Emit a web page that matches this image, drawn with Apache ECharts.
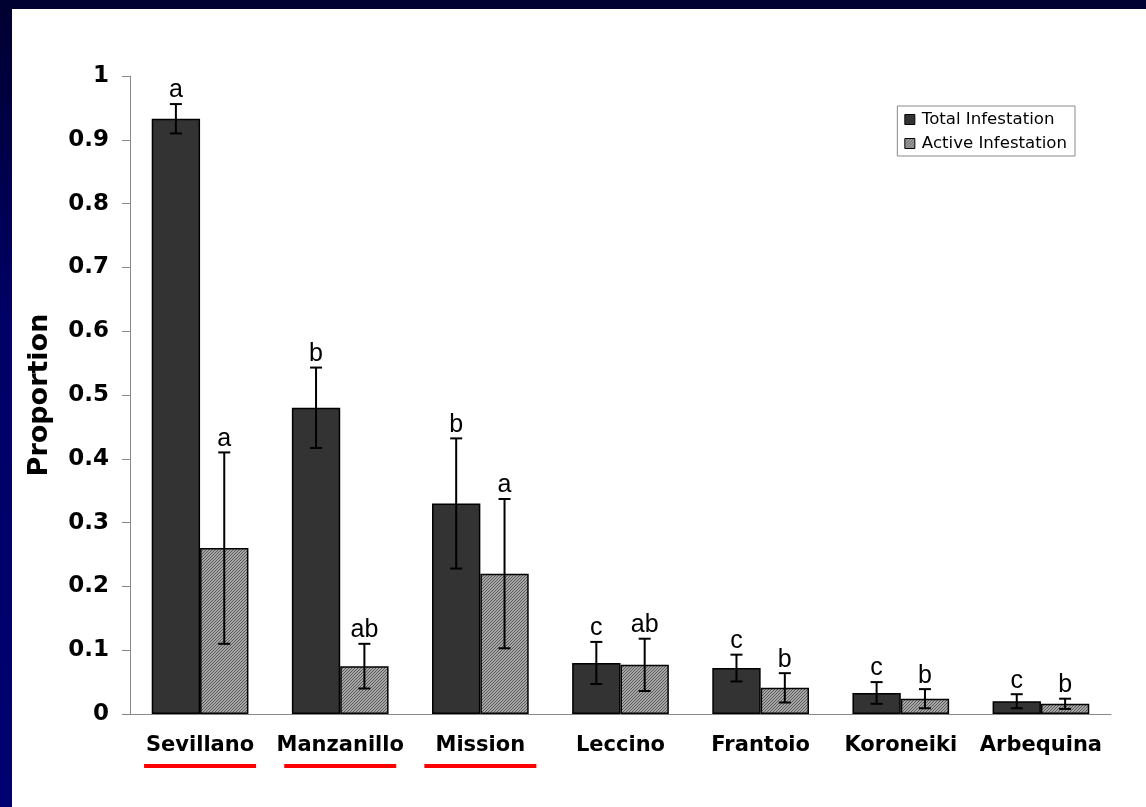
<!DOCTYPE html>
<html>
<head>
<meta charset="utf-8">
<title>Proportion of infestation by olive cultivar</title>
<script src="https://cdn.jsdelivr.net/npm/echarts@6/dist/echarts.min.js"></script>
<style>
  html, body { margin: 0; padding: 0; width: 1146px; height: 807px; overflow: hidden; }
  body { background: linear-gradient(to bottom, #000030 0%, #000066 40%, #000070 100%); }
  #panel { position: absolute; left: 12px; top: 9px; right: 0; bottom: 0; background: #ffffff; }
  #chart { position: absolute; left: 0; top: 0; width: 1146px; height: 807px; }
</style>
</head>
<body>
<div id="panel"></div>
<div id="chart"></div>
<script>
// Cultivars and measured proportions (mean ± error) with significance letters
const categories = ['Sevillano', 'Manzanillo', 'Mission', 'Leccino', 'Frantoio', 'Koroneiki', 'Arbequina'];
const totalValues = [0.933, 0.48, 0.33, 0.08, 0.072, 0.033, 0.02];
const totalErrors = [0.023, 0.063, 0.102, 0.033, 0.021, 0.017, 0.011];
const totalLetters = ['a', 'b', 'b', 'c', 'c', 'c', 'c'];
const activeValues = [0.26, 0.075, 0.22, 0.077, 0.041, 0.024, 0.016];
const activeErrors = [0.15, 0.035, 0.117, 0.041, 0.023, 0.015, 0.008];
const activeLetters = ['a', 'ab', 'a', 'ab', 'b', 'b', 'b'];
const underlinedCultivars = ['Sevillano', 'Manzanillo', 'Mission'];
const seriesNames = ['Total Infestation', 'Active Infestation'];

const CATEGORY_GAP = 0.31;
const SANS = '"DejaVu Sans", Verdana, sans-serif';

// Fine diagonal hatch used for the active-infestation bars
function hatchPattern() {
  const c = document.createElement('canvas');
  c.width = 3; c.height = 3;
  const g = c.getContext('2d');
  g.fillStyle = '#a6a6a6';
  g.fillRect(0, 0, 3, 3);
  g.fillStyle = '#5a5a5a';
  for (let y = 0; y < 3; y++) {
    for (let x = 0; x < 3; x++) {
      if ((x + y) % 3 === 2) g.fillRect(x, y, 1, 1);
    }
  }
  return { image: c, repeat: 'repeat' };
}

function errorData(values, errors) {
  return values.map((v, i) => [i, v, errors[i]]);
}

// Error bar with caps and the significance letter above it
function errorRenderer(side, letters) {
  return function (params, api) {
    const idx = api.value(0);
    const val = api.value(1);
    const err = api.value(2);
    const letter = letters[params.dataIndex];
    const band = api.size([1, 0])[0];
    const barW = band * (1 - CATEGORY_GAP) / 2;
    const cx = api.coord([idx, val])[0] + side * barW / 2;
    const yTop = api.coord([idx, val + err])[1];
    const yBot = api.coord([idx, Math.max(val - err, 0)])[1];
    const cap = 6;
    const st = { stroke: '#000', lineWidth: 2 };
    return {
      type: 'group',
      children: [
        { type: 'line', shape: { x1: cx, y1: yTop, x2: cx, y2: yBot }, style: st },
        { type: 'line', shape: { x1: cx - cap, y1: yTop, x2: cx + cap, y2: yTop }, style: st },
        { type: 'line', shape: { x1: cx - cap, y1: yBot, x2: cx + cap, y2: yBot }, style: st },
        {
          type: 'text',
          style: {
            text: letter, x: cx, y: yTop - 1,
            align: 'center', verticalAlign: 'bottom',
            font: '25px "Liberation Sans", Arial, sans-serif', fill: '#000'
          }
        }
      ]
    };
  };
}

const chart = echarts.init(document.getElementById('chart'), null, { renderer: 'canvas' });

const option = {
  backgroundColor: 'transparent',
  animation: false,
  grid: { left: 130, right: 35, top: 76, bottom: 93 },
  legend: {
    data: seriesNames.map(n => ({ name: n, icon: 'rect' })),
    orient: 'vertical',
    right: 71,
    top: 106,
    itemWidth: 10,
    itemHeight: 10,
    itemGap: 7,
    padding: [5, 8, 4, 7],
    borderColor: '#8a8a8a',
    borderWidth: 1,
    backgroundColor: '#fff',
    selectedMode: false,
    textStyle: { fontFamily: SANS, fontSize: 16.6, color: '#000', padding: [0, 0, 0, 2] },
    itemStyle: { borderColor: '#000', borderWidth: 1 }
  },
  xAxis: {
    type: 'category',
    data: categories,
    axisLine: { lineStyle: { color: '#888', width: 1 } },
    axisTick: { show: false },
    axisLabel: {
      margin: 21,
      interval: 0,
      fontFamily: SANS,
      fontWeight: 'bold',
      fontSize: 21,
      color: '#000'
    }
  },
  yAxis: {
    type: 'value',
    min: 0,
    max: 1,
    interval: 0.1,
    name: 'Proportion',
    nameLocation: 'middle',
    nameRotate: 90,
    nameGap: 77,
    nameTextStyle: { fontFamily: SANS, fontWeight: 'bold', fontSize: 27, color: '#000' },
    axisLine: { show: true, lineStyle: { color: '#888', width: 1 } },
    axisTick: { show: true, length: 8, inside: false, lineStyle: { color: '#888' } },
    splitLine: { show: false },
    axisLabel: {
      margin: 21,
      formatter: v => String(Math.round(v * 10) / 10),
      fontFamily: SANS,
      fontWeight: 'bold',
      fontSize: 23,
      color: '#000'
    }
  },
  series: [
    {
      name: seriesNames[0],
      type: 'bar',
      data: totalValues,
      barGap: '0%',
      barCategoryGap: (CATEGORY_GAP * 100) + '%',
      itemStyle: { color: '#333333', borderColor: '#000', borderWidth: 1.5 }
    },
    {
      name: seriesNames[1],
      type: 'bar',
      data: activeValues,
      barGap: '0%',
      barCategoryGap: (CATEGORY_GAP * 100) + '%',
      itemStyle: { color: hatchPattern(), borderColor: '#000', borderWidth: 1.5 }
    },
    {
      name: 'totalErr',
      type: 'custom',
      renderItem: errorRenderer(-1, totalLetters),
      data: errorData(totalValues, totalErrors),
      encode: { x: 0, y: 1 },
      z: 10,
      silent: true
    },
    {
      name: 'activeErr',
      type: 'custom',
      renderItem: errorRenderer(1, activeLetters),
      data: errorData(activeValues, activeErrors),
      encode: { x: 0, y: 1 },
      z: 10,
      silent: true
    }
  ]
};

chart.setOption(option);

// Red underlines beneath the highlighted cultivar names
const baseY = chart.convertToPixel({ yAxisIndex: 0 }, 0);
chart.setOption({
  graphic: underlinedCultivars.map(name => {
    const x = chart.convertToPixel({ xAxisIndex: 0 }, name);
    return {
      type: 'rect',
      shape: { x: x - 56, y: baseY + 50, width: 112, height: 4 },
      style: { fill: '#ff0000' },
      silent: true
    };
  })
});
</script>
</body>
</html>
